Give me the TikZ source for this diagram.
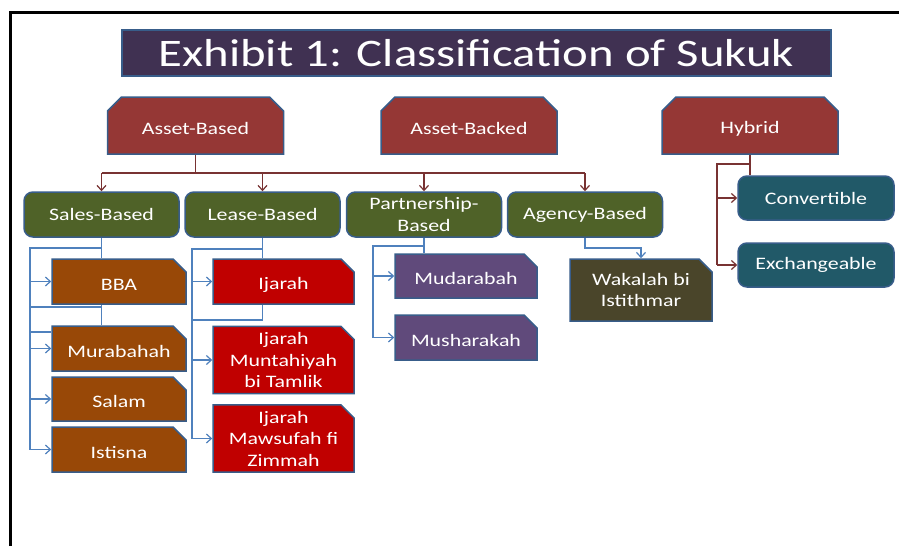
\documentclass[tikz,border=0pt]{standalone}
\usepackage{fontspec}
\newfontfamily\diafont[FakeStretch=1.25]{Carlito}
\usetikzlibrary{shapes.misc,arrows.meta}
\definecolor{cframe}{RGB}{0,0,0}
\definecolor{ctitle}{RGB}{64,49,82}
\definecolor{cborder}{RGB}{56,93,138}
\definecolor{clvlone}{RGB}{149,55,53}
\definecolor{clvltwo}{RGB}{79,98,40}
\definecolor{cteal}{RGB}{33,89,104}
\definecolor{cbrown}{RGB}{152,72,7}
\definecolor{cred}{RGB}{192,0,0}
\definecolor{cpurple}{RGB}{96,74,123}
\definecolor{colive}{RGB}{74,69,42}
\definecolor{crdline}{RGB}{120,50,50}
\definecolor{cblline}{RGB}{79,129,189}
\tikzset{
  base/.style={draw=cborder, line width=1.5pt, text=white, align=center, inner sep=0pt,
    font=\diafont\fontsize{17.5}{21.5}\selectfont},
  lowone/.style={text height=18pt},
  titlebox/.style={base, rectangle, fill=ctitle, minimum width=709pt, minimum height=46pt,
    font=\diafont\fontsize{39}{45}\selectfont},
  lvlone/.style={base, lowone, chamfered rectangle, chamfered rectangle corners={north west,north east},
    chamfered rectangle xsep=7pt, chamfered rectangle ysep=7pt,
    fill=clvlone, minimum width=176pt, minimum height=57pt},
  lvltwo/.style={base, rectangle, rounded corners=9pt, minimum width=155pt, minimum height=45pt},
  leaf/.style={base, chamfered rectangle, chamfered rectangle corners={north east},
    chamfered rectangle xsep=7pt, chamfered rectangle ysep=6pt},
  rd/.style={draw=crdline, line width=1.2pt},
  bl/.style={draw=cblline, line width=1.2pt},
  tip/.style={-{Straight Barb[length=5pt,width=9pt]}}
}
\begin{document}
\begin{tikzpicture}[x=1pt,y=-1pt]
\useasboundingbox (0,0) rectangle (899,546);
\fill[white] (0,0) rectangle (899,546);
% frame
\draw[cframe, line width=3pt] (10.5,546) -- (10.5,12.5) -- (899,12.5);
% title
\node[titlebox] (title) at (476.5,53) {Exhibit 1: Classification of Sukuk};
% level 1
\node[lvlone] (assetbased) at (195.5,125.5) {Asset-Based};
\node[lvlone] (assetbacked) at (469,125.5) {Asset-Backed};
\node[lvlone] (hybrid) at (750,125.5) {Hybrid};
% level 2
\node[lvltwo, fill=clvltwo] (sales) at (101.5,214.5) {Sales-Based};
\node[lvltwo, fill=clvltwo] (lease) at (262.5,214.5) {Lease-Based};
\node[lvltwo, fill=clvltwo] (partner) at (424,214.5) {Partnership-\\Based};
\node[lvltwo, fill=clvltwo] (agency) at (585,214.5) {Agency-Based};
\node[lvltwo, fill=cteal, minimum width=156pt, minimum height=44pt] (convertible) at (816,198) {Convertible};
\node[lvltwo, fill=cteal, minimum width=156pt, minimum height=44pt] (exchangeable) at (816,265) {Exchangeable};
% sales leaves
\node[leaf, lowone, fill=cbrown, minimum width=134pt, minimum height=45pt] (bba) at (119,281.5) {BBA};
\node[leaf, lowone, fill=cbrown, minimum width=134pt, minimum height=45pt] (murabahah) at (119,348.5) {Murabahah};
\node[leaf, lowone, fill=cbrown, minimum width=134pt, minimum height=44pt] (salam) at (119,399) {Salam};
\node[leaf, lowone, fill=cbrown, minimum width=134pt, minimum height=45pt] (istisna) at (119,449.5) {Istisna};
% lease leaves
\node[leaf, lowone, fill=cred, minimum width=141pt, minimum height=45pt] (ijarah) at (283.5,281.5) {Ijarah};
\node[leaf, fill=cred, minimum width=141pt, minimum height=66pt] (imbt) at (283.5,360) {Ijarah\\Muntahiyah\\bi Tamlik};
\node[leaf, fill=cred, minimum width=141pt, minimum height=67pt] (imfz) at (283.5,438.5) {Ijarah\\Mawsufah fi\\Zimmah};
% partnership leaves
\node[leaf, lowone, fill=cpurple, minimum width=142pt, minimum height=44pt] (mudarabah) at (466,276) {Mudarabah};
\node[leaf, lowone, fill=cpurple, minimum width=142pt, minimum height=45pt] (musharakah) at (466,337.5) {Musharakah};
% agency leaf
\node[leaf, fill=colive, minimum width=142pt, minimum height=62pt] (wakalah) at (641,290) {Wakalah bi\\Istithmar};
% bus coordinates
\coordinate (abus) at (0,173);
\coordinate (hbus) at (717,164);
\coordinate (sx) at (30,248);
\coordinate (sy) at (30,307);
\coordinate (sz) at (30,332);
\coordinate (lx) at (192,249);
\coordinate (ly) at (192,320);
\coordinate (px) at (373,246);
\coordinate (ay) at (0,248);
% asset-based connectors
\draw[rd] (assetbased.south) -- (assetbased.south |- abus);
\draw[rd] (sales.north |- abus) -- (agency.north |- abus);
\foreach \n in {sales,lease,partner,agency}
  \draw[rd,tip] (\n.north |- abus) -- (\n.north);
% hybrid connectors
\draw[rd] (hybrid.south) -- (hybrid.south |- convertible.north);
\draw[rd] (hybrid.south |- hbus) -- (hbus) -- (hbus |- exchangeable.west);
\draw[rd,tip] (hbus |- convertible.west) -- (convertible.west);
\draw[rd,tip] (hbus |- exchangeable.west) -- (exchangeable.west);
% sales connectors
\draw[bl] (sales.south) -- (sales.south |- bba.north);
\draw[bl] (sales.south |- sx) -- (sx) -- (sx |- istisna.west);
\draw[bl] (sales.south |- bba.south) -- (sales.south |- murabahah.north);
\draw[bl] (sy) -- (sales.south |- sy);
\draw[bl] (sz) -- (murabahah.west |- sz);
\foreach \n in {bba,murabahah,salam,istisna}
  \draw[bl,tip] (sx |- \n.west) -- (\n.west);
% lease connectors
\draw[bl] (lease.south) -- (lease.south |- ijarah.north);
\draw[bl] (lease.south |- lx) -- (lx) -- (lx |- imfz.west);
\draw[bl] (lease.south |- ijarah.south) -- (lease.south |- ly) -- (ly);
\foreach \n in {ijarah,imbt,imfz}
  \draw[bl,tip] (lx |- \n.west) -- (\n.west);
% partnership connectors
\draw[bl] (partner.south) -- (partner.south |- mudarabah.north);
\draw[bl] (partner.south |- px) -- (px) -- (px |- musharakah.west);
\foreach \n in {mudarabah,musharakah}
  \draw[bl,tip] (px |- \n.west) -- (\n.west);
% agency connector
\draw[bl,tip] (agency.south) -- (agency.south |- ay) -| (wakalah.north);
\end{tikzpicture}
\end{document}
